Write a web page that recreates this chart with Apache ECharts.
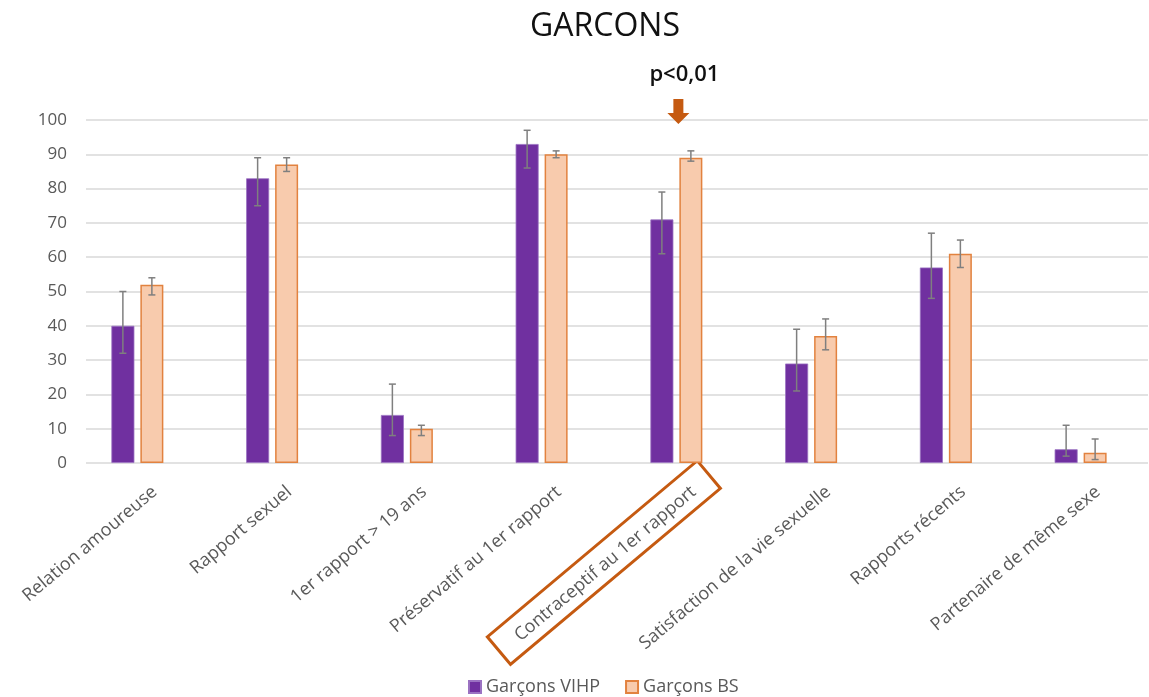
<!DOCTYPE html>
<html>
<head>
<meta charset="utf-8">
<script src="https://cdn.jsdelivr.net/npm/echarts@6/dist/echarts.min.js"></script>
<style>
html,body{margin:0;padding:0;background:#fff;}
#c{width:1149px;height:697px;}
</style>
</head>
<body>
<div id="c"></div>
<script>
const categories = ['Relation amoureuse','Rapport sexuel','1er rapport > 19 ans','Préservatif au 1er rapport','Contraceptif au 1er rapport','Satisfaction de la vie sexuelle','Rapports récents','Partenaire de même sexe'];
const seriesNames = ['Garçons VIHP','Garçons BS'];
const vihp = [40, 83, 14, 93, 71, 29, 57, 4];
const vihpLow = [32, 75, 8, 86, 61, 21, 48, 2];
const vihpHigh = [50, 89, 23, 97, 79, 39, 67, 11];
const bs = [52, 87, 10, 90, 89, 37, 61, 3];
const bsLow = [49, 85, 8, 89, 88, 33, 57, 1];
const bsHigh = [54, 89, 11, 91, 91, 42, 65, 7];
const yTicks = [0, 10, 20, 30, 40, 50, 60, 70, 80, 90, 100];
const titleText = 'GARCONS';
const annotText = 'p<0,01';
const highlightIndex = 4;

const FONT = '"Open Sans", sans-serif';
const BAR_W = 23;
const HALF_OFF = 14.5;

function errData(low, high) {
  return low.map((l, i) => [i, l, high[i]]);
}
function errSeries(name, low, high, off) {
  return {
    type: 'custom',
    name: name + '_err',
    xAxisIndex: 0, yAxisIndex: 0,
    z: 5,
    silent: true,
    data: errData(low, high),
    renderItem: function (params, api) {
      const x = api.coord([api.value(0), 0])[0] + off;
      const yl = api.coord([api.value(0), api.value(1)])[1];
      const yh = api.coord([api.value(0), api.value(2)])[1];
      const cap = 3.5;
      const st = { stroke: '#7f7f7f', lineWidth: 1.5 };
      return {
        type: 'group',
        children: [
          { type: 'line', shape: { x1: x, y1: yl, x2: x, y2: yh }, style: st },
          { type: 'line', shape: { x1: x - cap, y1: yh, x2: x + cap, y2: yh }, style: st },
          { type: 'line', shape: { x1: x - cap, y1: yl, x2: x + cap, y2: yl }, style: st }
        ]
      };
    }
  };
}

const chart = echarts.init(document.getElementById('c'), null, { renderer: 'canvas' });
const option = {
  backgroundColor: '#ffffff',
  animation: false,
  textStyle: { fontFamily: FONT },
  title: {
    text: titleText,
    left: 600, top: 6, textAlign: 'center',
    textStyle: { fontFamily: FONT, fontSize: 32, fontWeight: 'normal', color: '#111111' }
  },
  legend: {
    data: seriesNames,
    left: 463, top: 673,
    itemWidth: 12, itemHeight: 12, itemGap: 25,
    icon: 'rect',
    textStyle: { fontFamily: FONT, fontSize: 18, color: '#595959' }
  },
  grid: [
    { left: 70, right: 1, top: 120, bottom: 234 },
    { left: 86, right: 1, top: 120, bottom: 234 }
  ],
  xAxis: [
    {
      type: 'category', gridIndex: 0, data: categories,
      axisLine: { show: false }, axisTick: { show: false },
      axisLabel: {
        interval: 0, rotate: 40, margin: 6,
        formatter: function (v) { return '{a|' + v + '}'; },
        rich: {
          a: { fontFamily: FONT, fontSize: 18, color: '#595959', lineHeight: 72, verticalAlign: 'bottom' }
        }
      }
    },
    { type: 'value', gridIndex: 1, show: false, min: 0, max: 1 }
  ],
  yAxis: [
    { type: 'value', gridIndex: 0, min: 0, max: 100, interval: 10, show: false },
    {
      type: 'value', gridIndex: 1, min: yTicks[0], max: yTicks[yTicks.length - 1], interval: 10,
      axisLine: { show: false }, axisTick: { show: false },
      axisLabel: { margin: 19, fontFamily: FONT, fontSize: 17, color: '#595959' },
      splitLine: { lineStyle: { color: '#d9d9d9', width: 1.5 } }
    }
  ],
  series: [
    {
      type: 'bar', name: seriesNames[0], data: vihp,
      xAxisIndex: 0, yAxisIndex: 0,
      barWidth: BAR_W, barGap: '26%',
      itemStyle: { color: '#7030A0', borderColor: '#9b72c2', borderWidth: 0.8 }
    },
    {
      type: 'bar', name: seriesNames[1], data: bs,
      xAxisIndex: 0, yAxisIndex: 0,
      barWidth: BAR_W, barGap: '26%',
      itemStyle: { color: '#F8CBAD', borderColor: '#E2823F', borderWidth: 1.5 }
    },
    errSeries(seriesNames[0], vihpLow, vihpHigh, -HALF_OFF),
    errSeries(seriesNames[1], bsLow, bsHigh, HALF_OFF)
  ]
};
chart.setOption(option);

// annotations positioned from the axis scale
const cx = chart.convertToPixel({ xAxisIndex: 0 }, highlightIndex);
const arrowX = cx + 2;
const ang = 40 * Math.PI / 180;
chart.setOption({
  graphic: [
    {
      type: 'text', x: arrowX + 6, y: 64,
      style: { text: annotText, font: '600 22px "Open Sans", sans-serif', fill: '#111111', align: 'center' }
    },
    {
      type: 'polygon', x: arrowX, y: 99,
      shape: { points: [[-5, 0], [5, 0], [5, 14], [11, 14], [0, 25], [-11, 14], [-5, 14]] },
      style: { fill: '#C55A11' }
    },
    {
      type: 'rect', x: cx - 72.5, y: 562.6, rotation: ang,
      shape: { x: -137, y: -18, width: 274, height: 36 },
      style: { fill: 'none', stroke: '#C55A11', lineWidth: 3 }
    }
  ]
});
</script>
</body>
</html>
